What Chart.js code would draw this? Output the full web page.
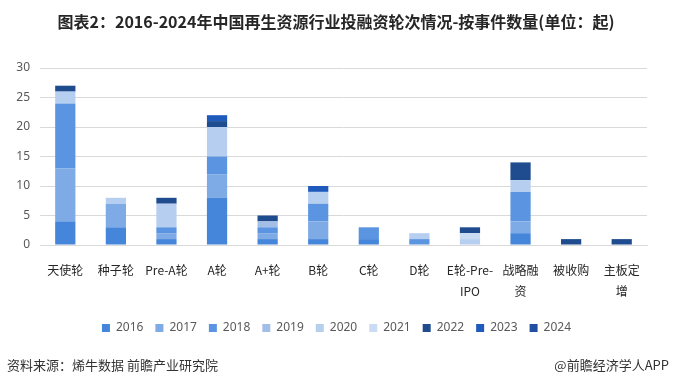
<!DOCTYPE html>
<html>
<head>
<meta charset="utf-8">
<script src="https://cdn.jsdelivr.net/npm/chart.js@4.4.1/dist/chart.umd.min.js"></script>
<style>
  html, body { margin: 0; padding: 0; background: #fff; }
  #wrap { width: 673px; height: 386px; position: relative; }
</style>
</head>
<body>
<div id="wrap"><canvas id="bar" width="673" height="386"></canvas></div>
<script>
// categories (line breaks as in the picture)
const categories = [['天使轮'], ['种子轮'], ['Pre-A轮'], ['A轮'], ['A+轮'], ['B轮'], ['C轮'], ['D轮'],
  ['E轮-Pre-', 'IPO'], ['战略融', '资'], ['被收购'], ['主板定', '增']];
const years = ['2016', '2017', '2018', '2019', '2020', '2021', '2022', '2023', '2024'];

// event counts per year, one value per category
const y2016 = [4, 3, 1, 8, 1, 1, 1, 0, 0, 2, 0, 0];
const y2017 = [9, 4, 1, 4, 1, 3, 0, 0, 0, 2, 0, 0];
const y2018 = [11, 0, 1, 3, 1, 3, 2, 1, 0, 5, 0, 0];
const y2019 = [0, 0, 0, 0, 1, 0, 0, 0, 0, 0, 0, 0];
const y2020 = [2, 1, 4, 5, 0, 2, 0, 1, 1, 2, 0, 0];
const y2021 = [0, 0, 0, 0, 0, 0, 0, 0, 1, 0, 0, 0];
const y2022 = [1, 0, 1, 1, 1, 0, 0, 0, 1, 3, 1, 1];
const y2023 = [0, 0, 0, 1, 0, 1, 0, 0, 0, 0, 0, 0];
const y2024 = [0, 0, 0, 0, 0, 0, 0, 0, 0, 0, 0, 0];

const yTicks = [0, 5, 10, 15, 20, 25, 30];

const seriesValues = [y2016, y2017, y2018, y2019, y2020, y2021, y2022, y2023, y2024];
const colors = ['#4585da', '#7eaae6', '#5b95e1', '#a3bfe8', '#b6cef0', '#cadcf4', '#1f4b8f', '#1f5bbd', '#20509f'];

// title + footer text drawn on the canvas, legend nudged to page centre
const textPlugin = {
  id: 'pageText',
  afterLayout(chart) {
    chart.legend.left += 13;
    chart.legend.right += 13;
  },
  afterDraw(chart) {
    const c = chart.ctx;
    c.save();
    c.fillStyle = '#262626';
    c.font = 'bold 16px "Noto Sans CJK SC"';
    c.textAlign = 'center';
    c.textBaseline = 'middle';
    c.fillText('图表2：2016-2024年中国再生资源行业投融资轮次情况-按事件数量(单位：起)', 336, 22);
    c.font = '13px "Noto Sans CJK SC"';
    c.fillStyle = '#333';
    c.textAlign = 'left';
    c.fillText('资料来源：烯牛数据 前瞻产业研究院', 7, 365);
    c.textAlign = 'right';
    c.fillText('@前瞻经济学人APP', 669, 365);
    c.restore();
  }
};

const ctx = document.getElementById('bar').getContext('2d');
const chart = new Chart(ctx, {
  type: 'bar',
  data: {
    labels: categories,
    datasets: years.map((yr, i) => ({
      label: yr,
      data: seriesValues[i],
      backgroundColor: colors[i],
      borderWidth: 0,
      barPercentage: 0.8,
      categoryPercentage: 0.5
    }))
  },
  options: {
    responsive: false,
    animation: false,
    layout: { padding: { top: 68, right: 26, left: 0, bottom: 42 } },
    scales: {
      x: {
        stacked: true,
        grid: { display: false },
        border: { color: '#d9d9d9' },
        afterFit: (scale) => { scale.height += 1; },
        ticks: {
          color: '#262626',
          maxRotation: 0,
          autoSkip: false,
          padding: 7,
          font: { family: '"Noto Sans CJK SC"', size: 12, lineHeight: 1.75 }
        }
      },
      y: {
        stacked: true,
        min: 0,
        max: 30,
        afterBuildTicks: (scale) => { scale.ticks = yTicks.map(v => ({ value: v })); },
        afterFit: (scale) => { scale.width = 40; },
        grid: { color: '#d9d9d9', drawTicks: false },
        border: { display: false },
        ticks: {
          color: '#595959',
          padding: 10,
          font: { family: '"Noto Sans"', size: 12 }
        }
      }
    },
    plugins: {
      legend: {
        position: 'bottom',
        labels: {
          boxWidth: 8,
          boxHeight: 8,
          padding: 12,
          color: '#595959',
          font: { family: '"Noto Sans"', size: 12 }
        }
      },
      tooltip: { enabled: false }
    }
  },
  plugins: [textPlugin]
});
</script>
</body>
</html>
